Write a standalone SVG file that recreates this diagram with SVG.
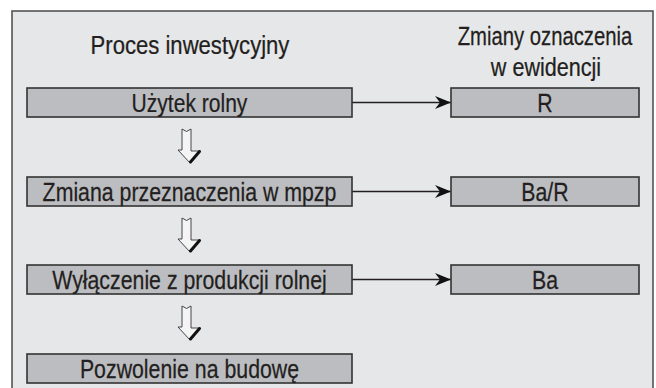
<svg xmlns="http://www.w3.org/2000/svg" xmlns:xlink="http://www.w3.org/1999/xlink" width="656" height="388" viewBox="0 0 656 388">
<style>
.frame{fill:#e6e7e9;stroke:#4a4a4a;stroke-width:1.5}
.box{fill:#bcbdc0;stroke:#333;stroke-width:1.6}
.t{font-family:"Liberation Sans",Arial,sans-serif;font-size:26px;fill:#231f20;stroke:#231f20;stroke-width:0.25;text-anchor:middle}
.conn{stroke:#231f20;stroke-width:1.5;fill:none}
.darr{fill:#f4f4f4;stroke:#333;stroke-width:0.9;stroke-linejoin:miter}
.dsh{stroke:#111;stroke-width:3;stroke-linecap:round}
</style>
<defs>
<marker id="ah" markerUnits="userSpaceOnUse" markerWidth="18" markerHeight="14" refX="16" refY="7" orient="auto">
<path d="M0,0.5 L16,7 L0,13.5 L5,7 Z" fill="#111"/>
</marker>
<g id="down">
<path class="darr" d="M182,129 L186.5,131.5 L191,129 L191,151 L200,151 L190,163 L178,150 L182,150 Z"/>
<line class="dsh" x1="199.5" y1="151.5" x2="190.5" y2="162"/>
</g>
</defs>
<rect class="frame" x="12" y="11" width="641" height="400"/>
<text class="t" transform="translate(190,54) scale(0.85,1)">Proces inwestycyjny</text>
<text class="t" transform="translate(545,45) scale(0.78,1)">Zmiany oznaczenia</text>
<text class="t" transform="translate(546,76) scale(0.83,1)">w ewidencji</text>
<g id="connectors">
<line class="conn" x1="352" y1="102.5" x2="451" y2="102.5" marker-end="url(#ah)"/>
<line class="conn" x1="352" y1="191.5" x2="451" y2="191.5" marker-end="url(#ah)"/>
<line class="conn" x1="352" y1="279.5" x2="451" y2="279.5" marker-end="url(#ah)"/>
<use xlink:href="#down"/>
<use xlink:href="#down" y="89"/>
<use xlink:href="#down" y="177"/>
</g>
<g id="n1"><rect class="box" x="27" y="88" width="325" height="29"/><text class="t" transform="translate(189.5,111.5) scale(0.81,1)">Użytek rolny</text></g>
<g id="n2"><rect class="box" x="27" y="177" width="325" height="29"/><text class="t" transform="translate(189.5,200.5) scale(0.82,1)">Zmiana przeznaczenia w mpzp</text></g>
<g id="n3"><rect class="box" x="27" y="265" width="325" height="29"/><text class="t" transform="translate(189.5,288.5) scale(0.82,1)">Wyłączenie z produkcji rolnej</text></g>
<g id="n4"><rect class="box" x="27" y="354" width="325" height="29"/><text class="t" transform="translate(189.5,377.5) scale(0.82,1)">Pozwolenie na budowę</text></g>
<g id="r1"><rect class="box" x="451" y="88" width="188" height="29"/><text class="t" transform="translate(545,111.5) scale(0.82,1)">R</text></g>
<g id="r2"><rect class="box" x="451" y="177" width="188" height="29"/><text class="t" transform="translate(545,200.5) scale(0.82,1)">Ba/R</text></g>
<g id="r3"><rect class="box" x="451" y="265" width="188" height="29"/><text class="t" transform="translate(545,288.5) scale(0.82,1)">Ba</text></g>
</svg>
